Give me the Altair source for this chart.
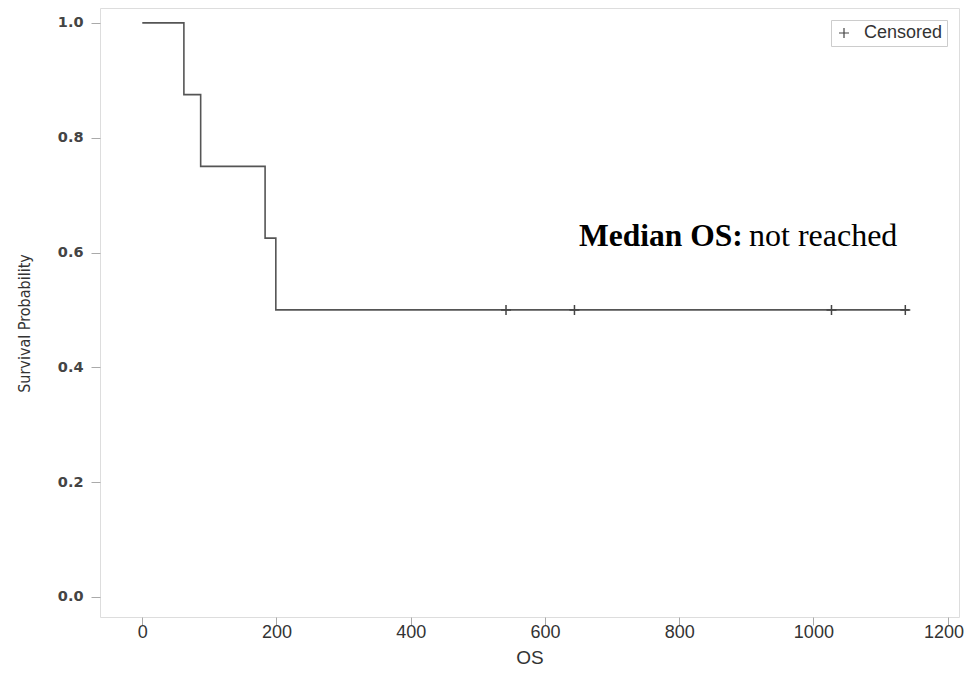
import altair as alt
import pandas as pd

# Kaplan-Meier curve (step-after)
times = [0, 62, 87, 183, 199, 1143]
surv = [1.0, 0.875, 0.75, 0.625, 0.5, 0.5]
# censored observations
cens_times = [542, 644, 1027, 1137]
cens_surv = [0.5, 0.5, 0.5, 0.5]

x_ticks = [0, 200, 400, 600, 800, 1000, 1200]
y_ticks = [0.0, 0.2, 0.4, 0.6, 0.8, 1.0]

km = pd.DataFrame({"OS": times, "S": surv})
cens = pd.DataFrame({"OS": cens_times, "S": cens_surv, "lab": ["Censored"] * len(cens_times)})

W, H = 859, 609
FONT = "Liberation Sans"

xs = alt.Scale(domain=[-63, 1217], nice=False, zero=False)
ys = alt.Scale(domain=[-0.035, 1.026], nice=False, zero=False)

xaxis = alt.Axis(values=x_ticks, format="d", grid=False, domain=False, tickColor="#aaa", tickSize=8,
                 labelFont=FONT, labelFontSize=18, labelColor="#333", labelPadding=-2,
                 labelFlush=12, labelFlushOffset=16,
                 title="OS", titleFont=FONT, titleFontSize=19, titleFontWeight="normal",
                 titleColor="#333", titlePadding=7)
yaxis = alt.Axis(values=y_ticks, format=".1f", grid=False, domain=False, tickColor="#aaa", tickSize=9,
                 labelFont="DejaVu Sans", labelFontSize=14.5, labelFontWeight="bold", labelColor="#444",
                 labelPadding=8,
                 title="Survival Probability",
                 titleFont="Liberation Sans Narrow, DejaVu Sans Condensed, sans-serif",
                 titleFontSize=16, titleFontWeight="normal", titleColor="#333", titlePadding=25,
                 titleY=315)

line = alt.Chart(km).mark_line(interpolate="step-after", color="#555", strokeWidth=1.6).encode(
    x=alt.X("OS:Q", scale=xs, axis=xaxis),
    y=alt.Y("S:Q", scale=ys, axis=yaxis),
)

plus = "M0,-1V1M-1,0H1"
marks = alt.Chart(cens).mark_point(shape=plus, filled=False, strokeWidth=1.5, size=100, opacity=1).encode(
    x=alt.X("OS:Q", scale=xs),
    y=alt.Y("S:Q", scale=ys),
    color=alt.Color("lab:N", scale=alt.Scale(domain=["Censored"], range=["#444"]),
                    legend=alt.Legend(title=None, orient="top-right", offset=12, strokeColor="#ccc",
                                      padding=4, symbolType=plus, symbolSize=100, symbolStrokeWidth=1.2,
                                      labelOffset=11, labelFont=FONT, labelFontSize=18, labelColor="#333",
                                      symbolFillColor="transparent", symbolStrokeColor="#444",
                                      symbolOpacity=1)),
)

t1 = alt.Chart(pd.DataFrame({"t": ["Median OS:"]})).mark_text(
    font="Liberation Serif", fontSize=31.5, fontWeight="bold", align="left", baseline="alphabetic", color="#000"
).encode(text="t:N", x=alt.value(479), y=alt.value(238))
t2 = alt.Chart(pd.DataFrame({"t": ["not reached"]})).mark_text(
    font="Liberation Serif", fontSize=32, align="left", baseline="alphabetic", color="#000"
).encode(text="t:N", x=alt.value(649), y=alt.value(238))

chart = (line + marks + t1 + t2).properties(
    width=W, height=H,
    autosize=alt.AutoSizeParams(type="none"),
    padding={"left": 92, "top": 0, "right": 5, "bottom": 51},
).configure_view(stroke="#aaa", strokeWidth=1.2).configure(background="white")

chart.save("out.html", embed_options={"renderer": "svg", "actions": False})
